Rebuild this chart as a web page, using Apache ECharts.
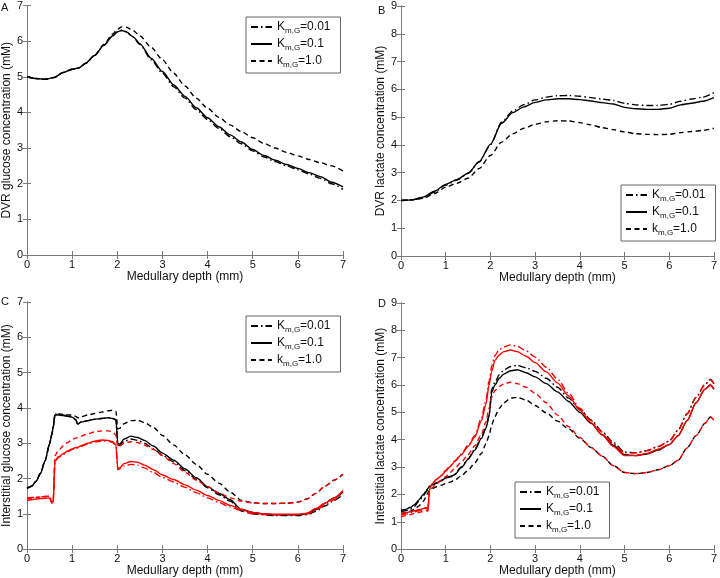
<!DOCTYPE html>
<html><head><meta charset="utf-8">
<script src="https://cdn.jsdelivr.net/npm/echarts@6/dist/echarts.min.js"></script>
<style>html,body{margin:0;padding:0;background:#fff}#c{width:720px;height:578px}</style>
</head><body><div id="c"></div>
<script>
// ---------- data ----------
const xTicks = [0,1,2,3,4,5,6,7];
const yTicksAC = [0,1,2,3,4,5,6,7];
const yTicksBD = [0,1,2,3,4,5,6,7,8,9];
const legendNames = ['K001','K01','k1'];

// Panel A: DVR glucose
const xA = [0,0.2,0.4,0.6,0.8,1.0,1.15,1.3,1.5,1.7,1.9,2.0,2.1,2.2,2.35,2.5,2.75,3.0,3.25,3.5,3.75,4.0,4.25,4.5,4.75,5.0,5.25,5.5,5.75,6.0,6.25,6.5,6.75,7.0];
const A_K001 = [5.00,4.95,4.93,4.98,5.12,5.21,5.25,5.38,5.60,5.88,6.15,6.26,6.31,6.26,6.11,5.91,5.48,5.10,4.72,4.40,4.08,3.80,3.55,3.32,3.12,2.92,2.75,2.62,2.50,2.39,2.27,2.15,2.00,1.84];
const A_K01  = [5.00,4.95,4.93,4.98,5.12,5.21,5.25,5.38,5.60,5.88,6.15,6.26,6.30,6.26,6.12,5.93,5.52,5.15,4.77,4.45,4.13,3.85,3.60,3.37,3.17,2.96,2.79,2.66,2.54,2.43,2.31,2.20,2.04,1.91];
const A_k1   = [5.00,4.95,4.93,4.98,5.12,5.21,5.25,5.38,5.61,5.91,6.20,6.33,6.40,6.39,6.30,6.15,5.83,5.48,5.10,4.74,4.40,4.12,3.86,3.65,3.46,3.29,3.13,3.00,2.88,2.78,2.68,2.59,2.50,2.36];

// Panel B: DVR lactate
const xB = [0,0.25,0.5,0.75,1.0,1.25,1.5,1.75,2.0,2.25,2.5,2.75,3.0,3.25,3.5,3.75,4.0,4.25,4.5,4.75,5.0,5.25,5.5,5.75,6.0,6.25,6.5,6.75,7.0];
const B_K001 = [2.00,2.02,2.10,2.30,2.55,2.73,2.98,3.38,4.00,4.82,5.22,5.45,5.62,5.72,5.77,5.78,5.75,5.70,5.65,5.60,5.50,5.44,5.42,5.42,5.46,5.57,5.65,5.72,5.88];
const B_K01  = [2.00,2.02,2.12,2.33,2.58,2.75,2.98,3.40,4.02,4.78,5.16,5.37,5.53,5.62,5.66,5.66,5.63,5.58,5.52,5.47,5.35,5.30,5.28,5.28,5.32,5.44,5.50,5.57,5.70];
const B_k1   = [2.00,2.02,2.08,2.25,2.48,2.62,2.80,3.15,3.62,4.10,4.40,4.60,4.74,4.83,4.87,4.86,4.80,4.72,4.62,4.55,4.47,4.40,4.38,4.37,4.38,4.44,4.48,4.52,4.60];

// Panel C: interstitial glucose (black and red)
const xC = [0,0.1,0.2,0.3,0.4,0.5,0.55,0.58,0.62,0.7,0.8,0.9,1.0,1.08,1.12,1.2,1.35,1.5,1.65,1.8,1.9,1.97,2.01,2.05,2.15,2.3,2.45,2.6,2.8,3.0,3.25,3.5,3.75,4.0,4.25,4.5,4.75,5.0,5.25,5.5,5.75,6.0,6.2,6.4,6.6,6.8,7.0];
const C_K001_black = [1.72,1.78,1.92,2.15,2.50,2.98,3.25,3.45,3.82,3.82,3.80,3.78,3.75,3.67,3.55,3.60,3.64,3.68,3.70,3.72,3.70,3.66,2.95,2.93,3.05,3.12,3.08,3.00,2.84,2.66,2.47,2.22,1.98,1.74,1.54,1.36,1.08,1.00,0.97,0.95,0.95,0.95,0.97,1.07,1.22,1.38,1.55];
const C_K01_black  = [1.72,1.78,1.92,2.15,2.50,2.98,3.25,3.45,3.80,3.80,3.78,3.76,3.74,3.66,3.54,3.60,3.64,3.68,3.70,3.72,3.70,3.66,3.00,2.97,3.12,3.20,3.16,3.08,2.92,2.72,2.52,2.27,2.02,1.77,1.58,1.40,1.12,1.04,0.99,0.97,0.97,0.97,1.00,1.12,1.30,1.45,1.62];
const C_k1_black   = [1.72,1.78,1.92,2.15,2.50,2.98,3.25,3.45,3.82,3.83,3.82,3.80,3.80,3.76,3.72,3.75,3.80,3.84,3.88,3.92,3.93,3.90,3.40,3.42,3.55,3.64,3.65,3.58,3.45,3.22,2.95,2.67,2.40,2.12,1.87,1.62,1.38,1.31,1.29,1.29,1.30,1.33,1.42,1.58,1.78,1.95,2.12];
const C_K001_red   = [1.45,1.46,1.47,1.48,1.49,1.50,1.32,1.35,2.48,2.60,2.68,2.76,2.82,2.86,2.86,2.91,2.98,3.04,3.06,3.06,3.02,2.92,2.25,2.27,2.35,2.40,2.38,2.30,2.17,2.03,1.90,1.75,1.60,1.45,1.32,1.19,1.09,1.00,0.98,0.97,0.97,0.97,0.99,1.10,1.25,1.40,1.60];
const C_K01_red    = [1.38,1.40,1.42,1.43,1.44,1.45,1.30,1.35,2.50,2.62,2.70,2.78,2.84,2.88,2.88,2.93,3.00,3.06,3.09,3.08,3.04,2.95,2.28,2.30,2.42,2.48,2.46,2.38,2.25,2.10,1.97,1.82,1.67,1.52,1.38,1.24,1.13,1.04,1.00,0.99,0.99,0.99,1.02,1.15,1.30,1.45,1.66];
const C_k1_red     = [1.42,1.44,1.46,1.48,1.49,1.50,1.32,1.38,2.65,2.80,2.92,3.02,3.10,3.15,3.15,3.20,3.27,3.32,3.35,3.35,3.32,3.22,2.90,2.92,3.00,3.04,3.02,2.95,2.82,2.65,2.42,2.18,1.95,1.77,1.60,1.45,1.36,1.31,1.29,1.29,1.30,1.33,1.42,1.58,1.78,1.95,2.12];

// Panel D: interstitial lactate (black and red)
const xD = [0,0.1,0.2,0.3,0.4,0.5,0.56,0.6,0.64,0.7,0.8,0.9,1.0,1.1,1.2,1.35,1.5,1.65,1.8,1.9,1.97,2.03,2.1,2.2,2.3,2.45,2.6,2.8,3.0,3.25,3.5,3.75,4.0,4.25,4.5,4.75,5.0,5.25,5.5,5.75,6.0,6.2,6.4,6.6,6.8,6.92,7.0];
const D_K001_black = [1.38,1.40,1.45,1.55,1.75,1.95,2.08,2.18,2.28,2.35,2.42,2.52,2.62,2.66,2.75,3.00,3.30,3.65,4.08,4.45,4.90,5.85,6.10,6.38,6.55,6.68,6.72,6.63,6.50,6.25,5.92,5.52,5.12,4.72,4.30,3.90,3.55,3.52,3.60,3.75,3.95,4.35,4.95,5.55,6.02,6.20,6.05];
const D_K01_black  = [1.42,1.45,1.52,1.62,1.80,2.00,2.12,2.22,2.30,2.35,2.42,2.50,2.60,2.64,2.72,2.98,3.28,3.62,4.05,4.42,4.85,5.75,6.00,6.25,6.40,6.52,6.56,6.45,6.30,6.05,5.75,5.40,5.00,4.60,4.18,3.80,3.45,3.42,3.48,3.62,3.82,4.15,4.70,5.35,5.85,6.00,5.85];
const D_k1_black   = [1.30,1.33,1.38,1.45,1.58,1.75,1.90,2.05,2.15,2.22,2.28,2.33,2.40,2.45,2.52,2.68,2.88,3.15,3.50,3.85,4.15,4.55,4.85,5.15,5.35,5.52,5.55,5.45,5.25,4.98,4.68,4.40,4.05,3.72,3.40,3.05,2.80,2.76,2.80,2.90,3.05,3.25,3.70,4.15,4.60,4.83,4.72];
const D_K001_red   = [1.25,1.28,1.32,1.36,1.40,1.45,1.50,1.42,2.18,2.40,2.56,2.70,2.88,3.05,3.22,3.48,3.80,4.15,4.80,5.45,6.15,6.70,7.08,7.30,7.40,7.47,7.42,7.25,7.02,6.65,6.22,5.70,5.15,4.70,4.28,3.85,3.52,3.52,3.60,3.75,3.95,4.35,4.95,5.55,6.02,6.20,6.05];
const D_K01_red    = [1.30,1.33,1.36,1.40,1.44,1.48,1.52,1.45,2.20,2.40,2.55,2.68,2.85,3.02,3.20,3.45,3.75,4.10,4.70,5.30,6.00,6.50,6.90,7.10,7.22,7.28,7.22,7.05,6.82,6.48,6.08,5.60,5.08,4.62,4.18,3.75,3.42,3.42,3.50,3.65,3.82,4.15,4.70,5.35,5.85,6.00,5.85];
const D_k1_red     = [1.18,1.22,1.26,1.30,1.34,1.38,1.42,1.38,2.08,2.25,2.40,2.52,2.65,2.80,2.95,3.18,3.45,3.78,4.20,4.65,5.15,5.55,5.80,5.95,6.05,6.10,6.05,5.92,5.70,5.35,4.90,4.48,4.08,3.72,3.40,3.05,2.80,2.76,2.80,2.90,3.05,3.25,3.70,4.15,4.60,4.83,4.72];

// ---------- build ----------
const FONT = 'Liberation Sans, Arial, sans-serif';
const AXC = '#7a7a7a';
const DASHDOT = [7,3,1.5,3];
const DASHED = [5,3.5];
const styles = {K001: DASHDOT, K01: 'solid', k1: DASHED};

const grids = [
  {left:25, top:5, width:318, height:250},
  {left:401, top:6, width:316, height:250},
  {left:25, top:302, width:318, height:250},
  {left:401, top:303, width:316, height:250}
];
const yNames = ['DVR glucose concentration (mM)','DVR lactate concentration (mM)','Interstitial glucose concentration (mM)','Interstitial lactate concentration (mM)'];
const yMax = [7,9,7,9];

const xAxes = [], yAxes = [];
grids.forEach((g,i)=>{
  xAxes.push({gridIndex:i, type:'value', min:0, max:7, interval:1, position:'bottom',
    name:'Medullary depth (mm)', nameLocation:'middle', nameGap:15,
    nameTextStyle:{fontFamily:FONT,fontSize:12,color:'#111'},
    axisLine:{show:true,lineStyle:{color:AXC,width:1}},
    axisTick:{show:true,inside:true,length:4,lineStyle:{color:AXC}},
    axisLabel:{fontFamily:FONT,fontSize:11,color:'#111',margin:4},
    splitLine:{show:false}});
  xAxes.push({gridIndex:i, type:'value', min:0, max:7, interval:1, position:'top',
    axisLine:{show:true,lineStyle:{color:AXC,width:1}},
    axisTick:{show:true,inside:true,length:4,lineStyle:{color:AXC}},
    axisLabel:{show:false}, splitLine:{show:false}});
  yAxes.push({gridIndex:i, type:'value', min:0, max:yMax[i], interval:1, position:'left',
    name:yNames[i], nameLocation:'middle', nameGap:11,
    nameTextStyle:{fontFamily:FONT,fontSize:12,color:'#111'},
    axisLine:{show:true,lineStyle:{color:AXC,width:1}},
    axisTick:{show:true,inside:true,length:4,lineStyle:{color:AXC}},
    axisLabel:{fontFamily:FONT,fontSize:11,color:'#111',margin:4},
    splitLine:{show:false}});
  yAxes.push({gridIndex:i, type:'value', min:0, max:yMax[i], interval:1, position:'right',
    axisLine:{show:true,lineStyle:{color:AXC,width:1}},
    axisTick:{show:true,inside:true,length:4,lineStyle:{color:AXC}},
    axisLabel:{show:false}, splitLine:{show:false}});
});

function pairs(xs, ys){ return xs.map((x,k)=>[x, ys[k]]); }
const series = [];
function addLine(panel, key, xs, ys, color, isRed){
  series.push({type:'line', name: isRed ? key+'_red' : key, xAxisIndex:panel*2, yAxisIndex:panel*2,
    data: pairs(xs, ys), showSymbol:false, symbol:'none', smooth:0.25, smoothMonotone:'x',
    lineStyle:{color:color, width:1.4, type:styles[key]}, itemStyle:{color:color},
    animation:false, silent:true, z: isRed ? 3 : 2});
}
addLine(0,'K001',xA,A_K001,'#000');
addLine(0,'K01',xA,A_K01,'#000');
addLine(0,'k1',xA,A_k1,'#000');
addLine(1,'K001',xB,B_K001,'#000');
addLine(1,'K01',xB,B_K01,'#000');
addLine(1,'k1',xB,B_k1,'#000');
addLine(2,'K001',xC,C_K001_black,'#000');
addLine(2,'K01',xC,C_K01_black,'#000');
addLine(2,'k1',xC,C_k1_black,'#000');
addLine(2,'K001',xC,C_K001_red,'#ff0000',true);
addLine(2,'K01',xC,C_K01_red,'#ff0000',true);
addLine(2,'k1',xC,C_k1_red,'#ff0000',true);
addLine(3,'K001',xD,D_K001_black,'#000');
addLine(3,'K01',xD,D_K01_black,'#000');
addLine(3,'k1',xD,D_k1_black,'#000');
addLine(3,'K001',xD,D_K001_red,'#ff0000',true);
addLine(3,'K01',xD,D_K01_red,'#ff0000',true);
addLine(3,'k1',xD,D_k1_red,'#ff0000',true);

const legendText = {K001:'{n|K}{s|m,G}{n|=0.01}', K01:'{n|K}{s|m,G}{n|=0.1}', k1:'{n|k}{s|m,G}{n|=1.0}'};
const legendPos = [{left:246, top:17},{left:621, top:185},{left:246, top:316},{left:515, top:482}];
const legends = legendPos.map(p=>({
  left:p.left, top:p.top, orient:'vertical', data:legendNames,
  itemWidth:21, itemHeight:10, itemGap:3, padding:[4,10,4,4],
  borderColor:'#666', borderWidth:1, backgroundColor:'#fff',
  selectedMode:false,
  itemStyle:{opacity:0, color:'rgba(0,0,0,0)', borderWidth:0},
  formatter: n => legendText[n],
  textStyle:{fontFamily:FONT, color:'#111', rich:{
    n:{fontFamily:FONT,fontSize:12,color:'#111'},
    s:{fontFamily:FONT,fontSize:8,color:'#111',padding:[8,0,0,0]}
  }}
}));

const letters = [['A',1,2],['B',378,5],['C',1,296],['D',378,298]];
const graphic = letters.map(l=>({type:'text', left:l[1], top:l[2],
  style:{text:l[0], font:'11px '+FONT, fill:'#111'}}));

const chart = echarts.init(document.getElementById('c'), null, {renderer:'canvas'});
chart.setOption({
  animation:false, backgroundColor:'#fff',
  grid: grids, xAxis: xAxes, yAxis: yAxes, series: series, legend: legends, graphic: graphic
});
</script></body></html>
